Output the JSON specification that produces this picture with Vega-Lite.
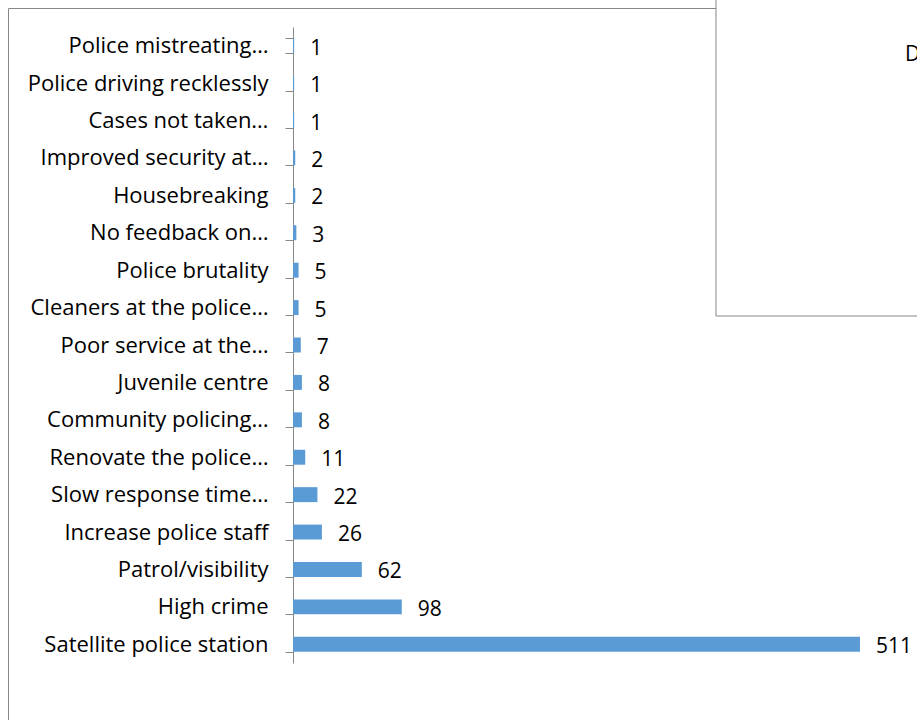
{
  "$schema": "https://vega.github.io/schema/vega-lite/v6.json",
  "width": 919,
  "height": 722,
  "autosize": {"type": "none"},
  "padding": {"left": 8, "top": 8, "right": -10, "bottom": -10},
  "background": "white",
  "config": {"view": {"stroke": "#878787", "strokeWidth": 1}, "font": "Open Sans"},
  "datasets": {
    "bars": [
      {"cat": "Police mistreating…", "value": 1},
      {"cat": "Police driving recklessly", "value": 1},
      {"cat": "Cases not taken…", "value": 1},
      {"cat": "Improved security at…", "value": 2},
      {"cat": "Housebreaking", "value": 2},
      {"cat": "No feedback on…", "value": 3},
      {"cat": "Police brutality", "value": 5},
      {"cat": "Cleaners at the police…", "value": 5},
      {"cat": "Poor service at the…", "value": 7},
      {"cat": "Juvenile centre", "value": 8},
      {"cat": "Community policing…", "value": 8},
      {"cat": "Renovate the police…", "value": 11},
      {"cat": "Slow response time…", "value": 22},
      {"cat": "Increase police staff", "value": 26},
      {"cat": "Patrol/visibility", "value": 62},
      {"cat": "High crime", "value": 98},
      {"cat": "Satellite police station", "value": 511}
    ],
    "box": [
      {"x": 381.2, "x2": 620, "y": -2, "y2": 7.725, "label": "D", "lx": 551.5, "ly": 0.75}
    ]
  },
  "layer": [
    {
      "data": {"name": "bars"},
      "encoding": {
        "y": {
          "field": "cat",
          "type": "nominal",
          "sort": null,
          "scale": {"range": [19, 655], "paddingInner": 0.6, "paddingOuter": 0.3, "align": 0.5},
          "axis": {
            "title": null,
            "domain": true,
            "domainColor": "#878787",
            "domainWidth": 1,
            "ticks": true,
            "tickBand": "extent",
            "tickSize": 8,
            "tickColor": "#878787",
            "tickWidth": 1,
            "labelFontSize": 22,
            "labelFont": "Open Sans",
            "labelColor": "black",
            "labelPadding": 17,
            "labelLimit": 0,
            "offset": -285,
            "encode": {"labels": {"update": {"dx": {"signal": "indexof(datum.value, '…') >= 0 ? 18 : 0"}}}}
          }
        }
      },
      "layer": [
        {
          "mark": {"type": "bar", "color": "#5B9BD5"},
          "encoding": {
            "x": {"field": "value", "type": "quantitative", "scale": {"domain": [-256.9, 571.4], "nice": false, "zero": false}, "axis": null}
          }
        },
        {
          "mark": {"type": "text", "align": "left", "baseline": "middle", "dx": 16, "dy": 3, "fontSize": 21, "font": "Open Sans", "color": "black"},
          "encoding": {
            "x": {"field": "value", "type": "quantitative", "scale": {"domain": [-256.9, 571.4], "nice": false, "zero": false}},
            "text": {"field": "value", "type": "quantitative"}
          }
        }
      ]
    },
    {
      "data": {"name": "box"},
      "layer": [
        {
          "mark": {"type": "rect", "fill": "white", "stroke": "#878787", "strokeWidth": 1, "clip": false},
          "encoding": {
            "x": {"field": "x", "type": "quantitative", "scale": {"domain": [-256.9, 571.4], "nice": false, "zero": false}},
            "x2": {"field": "x2"},
            "y": {"field": "y", "type": "quantitative", "scale": {"domain": [-0.508, 18.79], "reverse": true, "nice": false, "zero": false}, "axis": null},
            "y2": {"field": "y2"}
          }
        },
        {
          "mark": {"type": "text", "align": "left", "baseline": "middle", "fontSize": 21, "font": "Open Sans", "color": "black"},
          "encoding": {
            "x": {"field": "lx", "type": "quantitative", "scale": {"domain": [-256.9, 571.4], "nice": false, "zero": false}},
            "y": {"field": "ly", "type": "quantitative", "scale": {"domain": [-0.508, 18.79], "reverse": true, "nice": false, "zero": false}, "axis": null},
            "text": {"field": "label"}
          }
        }
      ]
    }
  ],
  "resolve": {"scale": {"y": "independent"}}
}
